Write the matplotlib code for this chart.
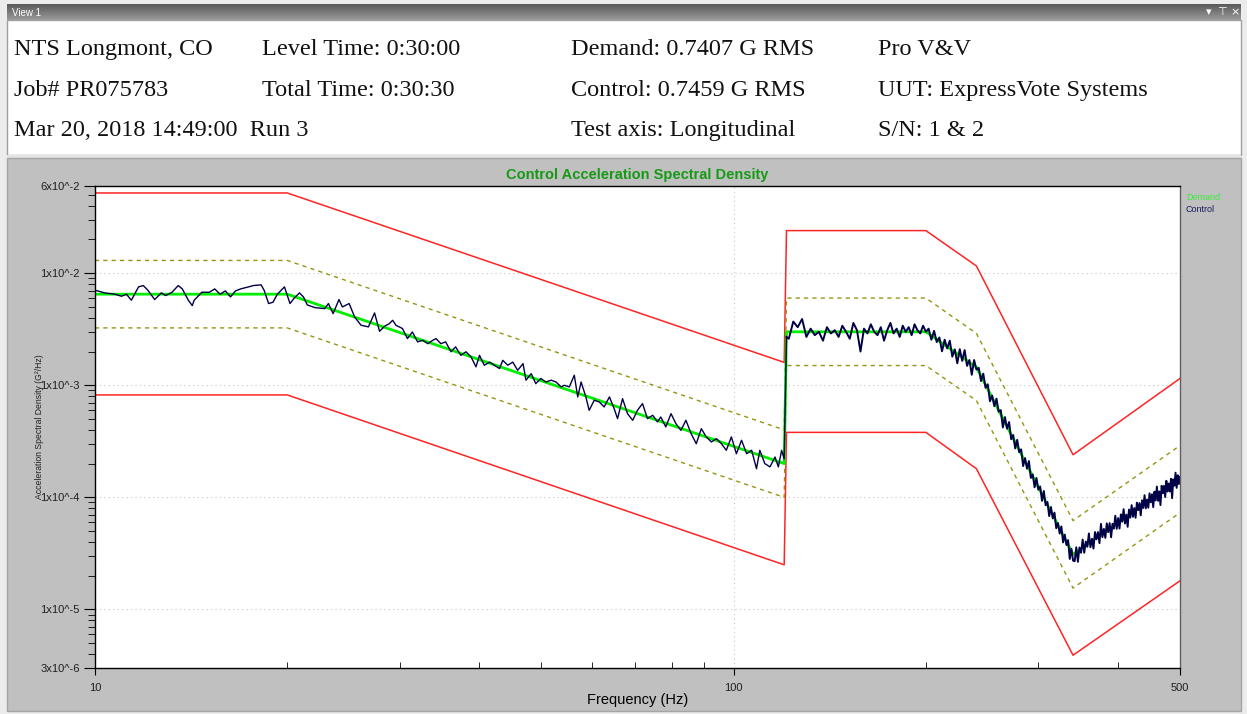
import numpy as np
import matplotlib.pyplot as plt
from matplotlib.patches import Rectangle
from matplotlib.ticker import FixedLocator, FixedFormatter, NullFormatter, LogLocator

# test profile breakpoints (Hz, G^2/Hz)
prof_freq = [10, 20, 120, 121, 200, 240, 340, 500]
demand = [6.5e-3, 6.5e-3, 2.0e-4, 3.0e-3, 3.0e-3, 1.45e-3, 3.1e-5, 1.45e-4]
alarm_hi = [1.3e-2, 1.3e-2, 4.0e-4, 6.0e-3, 6.0e-3, 2.9e-3, 6.2e-5, 2.9e-4]
alarm_lo = [3.25e-3, 3.25e-3, 1.0e-4, 1.5e-3, 1.5e-3, 7.3e-4, 1.55e-5, 7.3e-5]
abort_hi = [5.2e-2, 5.2e-2, 1.6e-3, 2.4e-2, 2.4e-2, 1.16e-2, 2.4e-4, 1.15e-3]
abort_lo = [8.2e-4, 8.2e-4, 2.5e-5, 3.8e-4, 3.8e-4, 1.8e-4, 3.9e-6, 1.8e-5]

# control trace, 10-121 Hz (values in 1e-3 G^2/Hz)
ctrl_lo_freq = [
    10.0, 10.36, 10.75, 11.0, 11.2, 11.4, 11.7, 11.9, 12.1, 12.4,
    12.7, 12.9, 13.2, 13.5, 13.7, 14.0, 14.2, 14.3, 14.7, 15.1,
    15.4, 15.7, 16.0, 16.3, 16.6, 16.9, 17.4, 17.7, 18.2, 18.4,
    18.7, 19.0, 19.3, 19.8, 20.2, 20.5, 20.9, 21.2, 21.5, 22.1,
    22.9, 23.2, 23.6, 24.1, 24.4, 25.0, 25.5, 26.1, 26.8, 27.4,
    27.9, 28.4, 28.9, 29.25, 29.6, 30.3, 30.85, 31.4, 32.0, 32.6,
    33.2, 33.8, 34.2, 34.8, 35.4, 36.1, 36.7, 37.4, 38.1, 38.8,
    39.5, 40.0, 40.7, 41.5, 42.2, 43.0, 43.5, 44.3, 45.1, 45.9,
    46.8, 47.3, 48.2, 49.0, 49.9, 50.8, 51.8, 52.7, 53.7, 54.3,
    55.3, 56.3, 57.0, 57.7, 58.7, 59.4, 60.5, 61.6, 62.7, 63.9,
    65.0, 65.8, 67.0, 68.2, 69.5, 70.7, 72.0, 73.3, 74.7, 76.0,
    76.9, 78.3, 79.8, 81.2, 82.7, 84.2, 85.8, 87.4, 89.0, 90.6,
    92.3, 94.0, 95.7, 97.4, 99.2, 101.0, 102.9, 104.8, 106.7, 108.6,
    109.9, 111.9, 114.0, 116.1, 117.5, 118.9, 120.0, 121.0]
ctrl_lo_val = [
    7.05, 6.67, 6.49, 6.23, 6.49, 5.74, 7.55, 7.76, 7.05, 5.82,
    6.67, 6.32, 6.76, 7.76, 7.24, 5.74, 5.14, 5.74, 6.76, 6.76,
    7.24, 6.49, 6.95, 6.15, 6.95, 7.24, 7.55, 7.76, 7.87, 7.05,
    5.36, 5.51, 6.49, 7.55, 5.36, 5.98, 6.67, 6.15, 5.21, 4.93,
    4.83, 5.36, 4.36, 5.82, 5.00, 5.36, 4.07, 3.43, 3.32, 4.42,
    3.03, 3.36, 3.55, 3.80, 3.43, 3.21, 2.61, 2.99, 2.44, 2.52,
    2.35, 2.52, 2.61, 2.35, 2.44, 1.99, 2.20, 1.85, 1.99, 1.79,
    1.46, 1.85, 1.51, 1.61, 1.51, 1.41, 1.67, 1.51, 1.61, 1.36,
    1.56, 1.11, 1.27, 1.035, 1.15, 1.07, 1.11, 1.07, 0.967, 1.00,
    0.967, 1.23, 0.787, 1.07, 0.787, 0.598, 0.735, 0.710, 0.641, 0.787,
    0.619, 0.504, 0.760, 0.558, 0.487, 0.598, 0.686, 0.504, 0.540, 0.471,
    0.521, 0.425, 0.558, 0.455, 0.396, 0.487, 0.370, 0.301, 0.410, 0.346,
    0.312, 0.334, 0.301, 0.263, 0.346, 0.245, 0.323, 0.245, 0.263, 0.180,
    0.263, 0.200, 0.187, 0.229, 0.187, 0.263, 0.220, 2.70]

# control trace, 122-500 Hz every 2 Hz
ctrl_hi_freq = np.arange(122, 501, 2)
ctrl_flat = [  # 122-200 Hz, 1e-3
    2.6, 3.7, 3.3, 3.9, 2.7, 3.2, 2.8, 3.0, 2.5, 3.3,
    2.9, 3.1, 2.7, 3.4, 3.0, 2.6, 3.6, 3.1, 2.0, 3.2,
    2.9, 3.5, 3.0, 2.8, 3.3, 2.5, 3.1, 3.6, 2.9, 3.2,
    2.7, 3.4, 3.0, 3.3, 2.8, 3.5, 3.1, 2.9, 3.4, 3.0]
ctrl_roll = [  # 202-240 Hz, 1e-3
    3.2, 2.55, 3.06, 2.43, 2.67, 2.01, 2.55, 2.13, 2.50, 1.80,
    2.09, 1.57, 2.10, 1.65, 2.06, 1.49, 1.68, 1.24, 1.68, 1.38]
ctrl_notch = [  # 242-340 Hz, 1e-5
    143, 109, 127, 95, 102, 72, 81, 65, 76, 58,
    60, 42, 52, 41, 47, 33, 36, 27.3, 32.6, 25.3,
    26.8, 19.0, 22.4, 18.0, 21.1, 14.9, 16.0, 12.3, 14.9, 11.7,
    12.5, 9.3, 11.4, 8.5, 9.1, 6.8, 8.2, 6.5, 7.3, 5.3,
    5.9, 4.75, 5.5, 3.96, 4.65, 3.75, 4.15, 2.82, 3.48, 2.73]
ctrl_rise = [  # 342-500 Hz, 1e-5
    2.69, 3.58, 2.66, 3.57, 3.20, 4.20, 3.20, 4.03, 3.62, 4.76,
    3.59, 4.27, 3.49, 4.90, 4.22, 4.90, 3.90, 5.80, 4.41, 5.23,
    4.35, 5.86, 4.89, 5.89, 4.40, 5.81, 5.25, 6.85, 5.24, 6.53,
    5.27, 7.05, 6.06, 7.84, 5.84, 7.02, 5.46, 7.78, 6.59, 8.52,
    6.70, 8.03, 6.57, 8.96, 7.69, 8.89, 6.91, 9.40, 8.03, 10.44,
    7.97, 9.56, 8.08, 10.85, 9.03, 10.65, 8.18, 11.23, 9.39, 12.47,
    9.30, 11.29, 8.53, 12.69, 10.87, 12.66, 10.07, 14.05, 11.26, 13.29,
    11.26, 14.63, 9.83, 14.47, 12.70, 16.58, 12.15, 15.72, 13.13, 15.23]

ytick_vals = [3e-6, 1e-5, 1e-4, 1e-3, 1e-2, 6e-2]
ytick_text = ['3x10^-6', '1x10^-5', '1x10^-4', '1x10^-3', '1x10^-2', '6x10^-2']
xtick_vals = [10, 100, 500]
xtick_text = ['10', '100', '500']

header_rows = [
    ['NTS Longmont, CO', 'Level Time: 0:30:00', 'Demand: 0.7407 G RMS', 'Pro V&V'],
    ['Job# PR075783', 'Total Time: 0:30:30', 'Control: 0.7459 G RMS', 'UUT: ExpressVote Systems'],
    ['Mar 20, 2018 14:49:00  Run 3', '', 'Test axis: Longitudinal', 'S/N: 1 & 2'],
]

W, H = 1247, 714
fig = plt.figure(figsize=(W / 100, H / 100), dpi=100)
fig.patch.set_facecolor('#ececec')

# window chrome drawn in pixel coordinates
bg = fig.add_axes([0, 0, 1, 1])
bg.set_zorder(0)
grad = np.linspace(0, 1, 16).reshape(-1, 1)
bg.imshow(grad, extent=(7, 1241, 20, 4), aspect='auto', cmap='Greys_r',
          vmin=-1.3, vmax=3.2)
bg.add_patch(Rectangle((7, 20), 1234, 135, fc='white', ec='#a0a0a0', lw=1))
bg.add_patch(Rectangle((7, 155), 1234, 3, fc='#e4e4e4', ec='none'))
bg.add_patch(Rectangle((7, 158), 1234, 553, fc='#c0c0c0', ec='#a4a4a4', lw=1))
bg.set_xlim(0, W)
bg.set_ylim(H, 0)
bg.axis('off')

bg.text(12, 12.5, 'View 1', color='white', fontsize=7, va='center',
        family='Liberation Sans')
for x, s in zip([1209, 1222, 1235], ['▾', '⊤', '×']):
    bg.text(x, 12, s, color='white', fontsize=8, va='center', ha='center')

col_x = [14, 262, 571, 878]
row_base = [55, 96, 136]
for y, row in zip(row_base, header_rows):
    for x, s in zip(col_x, row):
        bg.text(x, y, s, fontsize=17.5, family='Liberation Serif',
                va='baseline', ha='left', color='#111111')

bg.text(1186, 197, 'Demand', color='#3cec3c', fontsize=6.5, va='center',
        family='Liberation Sans')
bg.text(1186, 210, 'Control', color='#1a1a5e', fontsize=6.5, va='center',
        family='Liberation Sans')

# the ASD plot
ax = fig.add_axes([95 / W, 46 / H, 1085 / W, 482 / H])
ax.set_zorder(2)
ax.set_facecolor('white')
ax.set_xscale('log')
ax.set_yscale('log')

ax.plot(prof_freq, abort_hi, color='#ff2424', lw=1.1)
ax.plot(prof_freq, abort_lo, color='#ff2424', lw=1.1)
ax.plot(prof_freq, alarm_hi, color='#959510', lw=1, ls=(0, (3, 3)))
ax.plot(prof_freq, alarm_lo, color='#959510', lw=1, ls=(0, (3, 3)))
ax.plot(prof_freq, demand, color='#00ee00', lw=2)

hi_val = np.concatenate([np.array(ctrl_flat) * 1e-3,
                         np.array(ctrl_roll) * 1e-3,
                         np.array(ctrl_notch) * 1e-5,
                         np.array(ctrl_rise) * 1e-5])
lo_val = np.array(ctrl_lo_val) * 1e-3
ax.plot(ctrl_lo_freq, lo_val, color='#000046', lw=1)
ax.plot(np.concatenate([ctrl_lo_freq[-1:], ctrl_hi_freq]),
        np.concatenate([lo_val[-1:], hi_val]), color='#000046', lw=1.4)

ax.set_xlim(10, 500)
ax.set_ylim(3e-6, 6e-2)

ax.xaxis.set_major_locator(FixedLocator(xtick_vals))
ax.xaxis.set_major_formatter(FixedFormatter(xtick_text))
ax.xaxis.set_minor_locator(FixedLocator([20, 30, 40, 50, 60, 70, 80, 90, 200, 300, 400]))
ax.xaxis.set_minor_formatter(NullFormatter())
ax.yaxis.set_major_locator(FixedLocator(ytick_vals))
ax.yaxis.set_major_formatter(FixedFormatter(ytick_text))
ax.yaxis.set_minor_locator(LogLocator(base=10, subs=range(2, 10)))
ax.yaxis.set_minor_formatter(NullFormatter())

ax.tick_params(axis='x', which='major', direction='out', length=5, pad=6,
               labelsize=8)
ax.tick_params(axis='x', which='minor', direction='in', length=4)
ax.tick_params(axis='y', which='major', direction='out', length=8, pad=3,
               labelsize=8)
ax.tick_params(axis='y', which='minor', direction='out', length=5)
for lbl in ax.get_xticklabels() + ax.get_yticklabels():
    lbl.set_family('Liberation Sans')
    lbl.set_color('#202020')

ax.grid(True, which='major', color='#c4c4c4', ls=(0, (1, 3)), lw=0.8)
for sp in ax.spines.values():
    sp.set_color('black')
    sp.set_linewidth(1)
ax.spines['right'].set_color('#606060')

ax.set_title('Control Acceleration Spectral Density', color='#169a16',
             fontsize=10.5, fontweight='bold', family='Liberation Sans', pad=5)
ax.set_xlabel('Frequency (Hz)', fontsize=10.5, family='Liberation Sans',
              labelpad=0)
ax.set_ylabel('Acceleration Spectral Density (G²/Hz)', fontsize=6.2,
              family='Liberation Sans', color='#202020')
ax.yaxis.set_label_coords(-51 / 1085, 0.5)

fig.savefig('out.png', dpi=100, facecolor=fig.get_facecolor())
